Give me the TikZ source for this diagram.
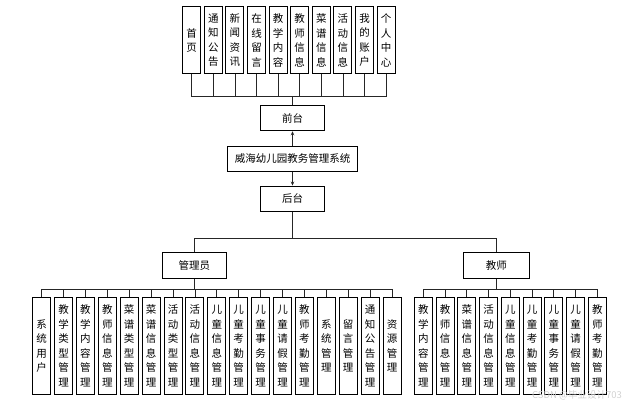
\documentclass[tikz,border=0pt]{standalone}
\usepackage{fontspec}
\setmainfont{Noto Sans CJK SC}
\usetikzlibrary{arrows.meta}
\begin{document}
\begin{tikzpicture}[x=1pt,y=-1pt,
  box/.style={draw=black,line width=0.9pt,inner sep=0pt,align=center,font=\fontsize{10.5}{14.5}\selectfont},
  vbox/.style={box,minimum width=18pt,text width=18pt},
  hbox/.style={box,minimum height=25.6pt},
  conn/.style={line width=0.8pt,draw=black!85},
  arr/.style={conn,-{Stealth[length=4pt,width=3.5pt]}}]
\useasboundingbox (0,0) rectangle (641,406);
% top row
\foreach \t [count=\i from 0] in {首\\页,通\\知\\公\\告,新\\闻\\资\\讯,在\\线\\留\\言,教\\学\\内\\容,教\\师\\信\\息,菜\\谱\\信\\息,活\\动\\信\\息,我\\的\\账\\户,个\\人\\中\\心}
  \node[vbox,minimum height=67.3pt] (t\i) at ({191.7+21.6*\i},40.3) {\t};
\node[hbox,minimum width=63.3pt] (qt) at (292.5,118) {前台};
\node[hbox,minimum width=130.6pt] (sys) at (292.5,158.8) {威海幼儿园教务管理系统};
\node[hbox,minimum width=63.3pt] (ht) at (292.5,198.8) {后台};
\node[hbox,minimum width=63.3pt] (adm) at (194.3,265.5) {管理员};
\node[hbox,minimum width=66pt] (tea) at (496.3,265.5) {教师};
% admin row
\foreach \t [count=\i from 0] in {系\\统\\用\\户,教\\学\\类\\型\\管\\理,教\\学\\内\\容\\管\\理,教\\师\\信\\息\\管\\理,菜\\谱\\类\\型\\管\\理,菜\\谱\\信\\息\\管\\理,活\\动\\类\\型\\管\\理,活\\动\\信\\息\\管\\理,儿\\童\\信\\息\\管\\理,儿\\童\\考\\勤\\管\\理,儿\\童\\事\\务\\管\\理,儿\\童\\请\\假\\管\\理,教\\师\\考\\勤\\管\\理,系\\统\\管\\理,留\\言\\管\\理,通\\知\\公\\告\\管\\理,资\\源\\管\\理}
  \node[vbox,minimum height=96.8pt] (a\i) at ({41.6+21.9*\i},345.9) {\t};
% teacher row
\foreach \t [count=\i from 0] in {教\\学\\内\\容\\管\\理,教\\师\\信\\息\\管\\理,菜\\谱\\信\\息\\管\\理,活\\动\\信\\息\\管\\理,儿\\童\\信\\息\\管\\理,儿\\童\\考\\勤\\管\\理,儿\\童\\事\\务\\管\\理,儿\\童\\请\\假\\管\\理,教\\师\\考\\勤\\管\\理}
  \node[vbox,minimum height=96.8pt] (e\i) at ({423.3+21.75*\i},345.9) {\t};
% buses
\coordinate (tbus) at (292.5,96.7);
\coordinate (hbus) at (292.5,238.3);
\coordinate (abus) at (194.3,289.2);
\coordinate (ebus) at (496.3,289.2);
\foreach \i in {0,...,9} \draw[conn] (t\i.south) -- (t\i.south |- tbus);
\draw[conn] (t0.south |- tbus) -- (t9.south |- tbus);
\draw[conn] (tbus) -- (qt.north);
\draw[arr] (sys.north) -- (qt.south);
\draw[arr] (sys.south) -- (ht.north);
\draw[conn] (ht.south) -- (hbus);
\draw[conn] (adm.north |- hbus) -- (tea.north |- hbus);
\draw[conn] (adm.north |- hbus) -- (adm.north);
\draw[conn] (tea.north |- hbus) -- (tea.north);
\draw[conn] (adm.south) -- (abus);
\draw[conn] (tea.south) -- (ebus);
\foreach \i in {0,...,16} \draw[conn] (a\i.north) -- (a\i.north |- abus);
\draw[conn] (a0.north |- abus) -- (a16.north |- abus);
\foreach \i in {0,...,8} \draw[conn] (e\i.north) -- (e\i.north |- ebus);
\draw[conn] (e0.north |- ebus) -- (e8.north |- ebus);
\node[text=black!18,font=\fontsize{9.5}{11}\selectfont,inner sep=0pt] (wm) at (577,395) {CSDN @毕业设计703};
\end{tikzpicture}
\end{document}
